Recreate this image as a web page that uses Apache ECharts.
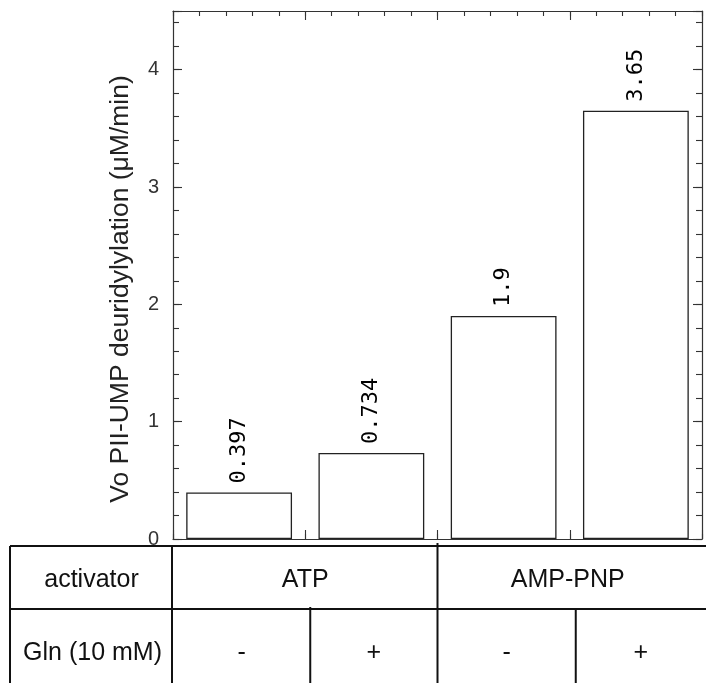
<!DOCTYPE html>
<html><head><meta charset="utf-8">
<script src="https://cdn.jsdelivr.net/npm/echarts@6/dist/echarts.min.js"></script>
<style>html,body{margin:0;padding:0;background:#fff}#c{width:706px;height:683px}</style>
</head><body><div id="c"></div>
<script>
// ---- data ----
const categories = ['ATP / Gln -', 'ATP / Gln +', 'AMP-PNP / Gln -', 'AMP-PNP / Gln +'];
const values = [0.397, 0.734, 1.9, 3.65];
const valueLabels = ['0.397', '0.734', '1.9', '3.65'];
const yTickLabels = ['0', '1', '2', '3', '4'];
const activatorLabels = ['ATP', 'AMP-PNP'];
const glnLabels = ['-', '+', '-', '+'];
const rowHeaders = ['activator', 'Gln (10 mM)'];
const yAxisName = 'Vo PII-UMP deuridylylation (μM/min)';

// ---- layout / style ----
const Y_MAX = 4.5;
const gridRect = { left: 173, top: 11, right: 4, bottom: 144 };
const frameColor = '#333';
const frameLine = { show: true, onZero: false, lineStyle: { color: frameColor, width: 1.2 } };
const tickStyle = { color: frameColor, width: 1.1 };
const sans = '"Liberation Sans", Arial, Helvetica, sans-serif';

const chart = echarts.init(document.getElementById('c'), null, { renderer: 'canvas' });

function frameX(pos, interval, len, show) {
  return {
    type: 'value', gridIndex: show ? 0 : 1, position: pos, min: 0, max: categories.length, interval: interval,
    axisLine: show ? frameLine : { show: false, onZero: false },
    axisTick: { show: true, inside: true, length: len, lineStyle: tickStyle },
    axisLabel: { show: false }, splitLine: { show: false }
  };
}
function frameY(pos, interval, len, show, withLabels) {
  return {
    type: 'value', gridIndex: show ? 0 : 1, position: pos, min: 0, max: Y_MAX, interval: interval,
    axisLine: show ? frameLine : { show: false, onZero: false },
    axisTick: { show: true, inside: true, length: len, lineStyle: tickStyle },
    axisLabel: withLabels ? {
      show: true, margin: 14, color: '#333', fontFamily: sans, fontSize: 20,
      formatter: v => { const i = yTickLabels.indexOf(String(v)); return i >= 0 ? yTickLabels[i] : ''; }
    } : { show: false },
    splitLine: { show: false },
    name: withLabels ? yAxisName : '',
    nameLocation: 'middle', nameGap: 39,
    nameTextStyle: { fontFamily: sans, fontSize: 26.5, color: '#222', padding: [0, 28, 0, 0] }
  };
}

const option = {
  animation: false,
  backgroundColor: '#fff',
  grid: [
    Object.assign({ containLabel: false }, gridRect),
    Object.assign({ containLabel: false }, gridRect),
    Object.assign({ containLabel: false }, gridRect)
  ],
  xAxis: [
    frameX('bottom', 1, 9, true),
    frameX('top', 1, 9, true),
    frameX('bottom', 0.2, 5, false),
    frameX('top', 0.2, 5, false),
    { type: 'category', gridIndex: 2, data: categories, show: false, boundaryGap: true }
  ],
  yAxis: [
    frameY('left', 1, 9, true, true),
    frameY('right', 1, 9, true, false),
    frameY('left', 0.2, 6, false, false),
    frameY('right', 0.2, 6, false, false),
    { type: 'value', gridIndex: 2, min: 0, max: Y_MAX, show: false, splitLine: { show: false } }
  ],
  series: [{
    type: 'bar', xAxisIndex: 4, yAxisIndex: 4,
    data: values,
    barCategoryGap: '20%',
    itemStyle: { color: '#fff', borderColor: '#222', borderWidth: 1.3 },
    label: {
      show: true, position: 'top', rotate: 90, align: 'left', verticalAlign: 'middle', distance: 9,
      fontFamily: '"DejaVu Sans Mono", "Liberation Mono", monospace', fontSize: 22, color: '#000',
      formatter: p => valueLabels[p.dataIndex]
    }
  }]
};
chart.setOption(option);

// ---- table below the chart (positions tied to the x axis) ----
const px = v => chart.convertToPixel({ xAxisIndex: 0 }, v);
const W = 706, H = 683;
const tableLeft = 10, tableTop = 546, rowSplit = 609;
const row1Y = 580, row2Y = 653;
const lineSt = { stroke: '#111', lineWidth: 2 };
const txtSt = { font: '25px ' + sans, fill: '#111', align: 'center', verticalAlign: 'middle' };
const els = [];
function hline(x1, x2, y) { els.push({ type: 'line', shape: { x1, y1: y, x2, y2: y }, style: lineSt, silent: true }); }
function vline(x, y1, y2) { els.push({ type: 'line', shape: { x1: x, y1, x2: x, y2 }, style: lineSt, silent: true }); }
function text(t, x, y) { els.push({ type: 'text', x, y, style: Object.assign({ text: t }, txtSt), silent: true }); }

const b0 = px(0), b2 = px(categories.length / 2), bEnd = W;
hline(tableLeft, W, tableTop);
hline(tableLeft, W, rowSplit);
vline(tableLeft, tableTop, H);
vline(b0 - 1, tableTop, H);
vline(b2, tableTop - 3, H);
const sub1 = px(1) + 5, sub3 = px(3) + 6;
vline(sub1, rowSplit - 2, H);
vline(sub3, rowSplit, H);

text(rowHeaders[0], (tableLeft + b0) / 2, row1Y);
text(rowHeaders[1], (tableLeft + b0) / 2 + 1, row2Y);
text(activatorLabels[0], (b0 + b2) / 2, row1Y);
text(activatorLabels[1], (b2 + bEnd) / 2 - 4, row1Y);
const cols = [b0, sub1, b2, sub3, bEnd];
glnLabels.forEach((g, i) => text(g, (cols[i] + cols[i + 1]) / 2, row2Y));

chart.setOption({ graphic: { elements: els } });
</script>
</body></html>
